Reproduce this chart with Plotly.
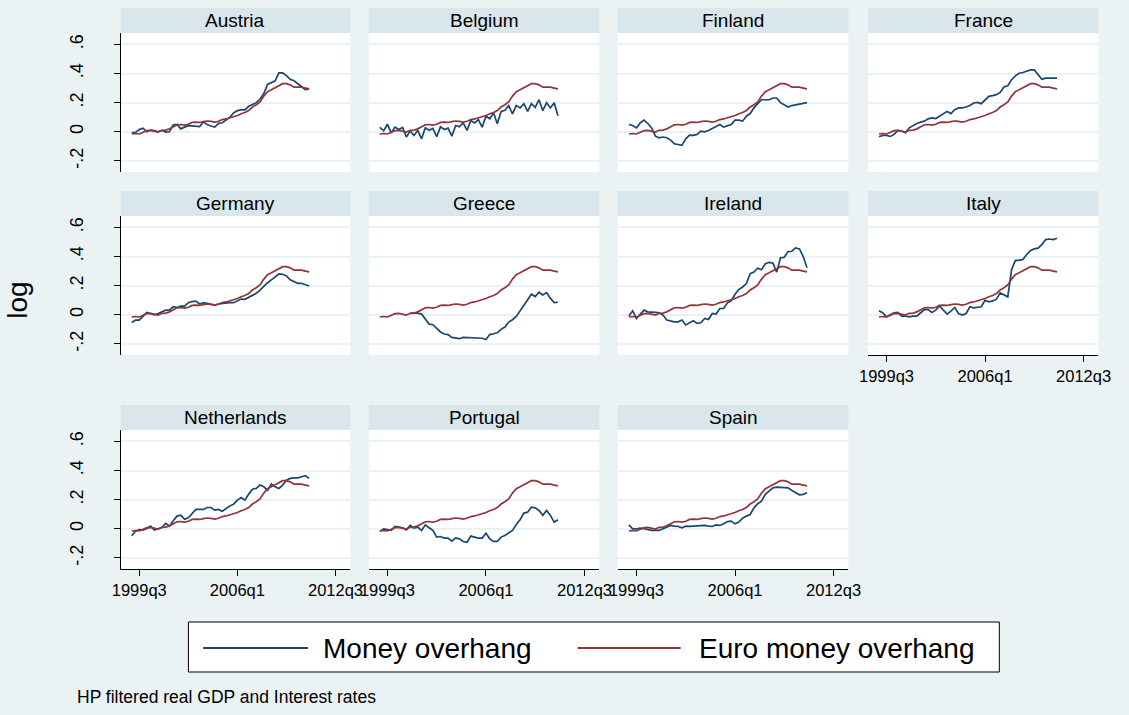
import plotly.graph_objects as go

# Stata %tq quarter numbers: 156 = 1999q1 ... 203 = 2010q4
quarters = list(range(156, 204))
x_tick_vals = [158, 184, 210]
x_tick_text = ["1999q3", "2006q1", "2012q3"]
y_tick_vals = [-0.2, 0, 0.2, 0.4, 0.6]
y_tick_text = ["-.2", "0", ".2", ".4", ".6"]

# Euro-area money overhang (same reference line in every panel)
euro = [-0.015, -0.012, -0.015, -0.005, 0.008, 0.010, 0.003, -0.002, 0.010, 0.012,
        0.020, 0.032, 0.048, 0.050, 0.046, 0.052, 0.064, 0.066, 0.064, 0.070,
        0.074, 0.072, 0.066, 0.072, 0.084, 0.088, 0.096, 0.100, 0.112, 0.124,
        0.132, 0.146, 0.170, 0.186, 0.205, 0.245, 0.275, 0.288, 0.302, 0.318,
        0.330, 0.330, 0.322, 0.306, 0.308, 0.306, 0.300, 0.294]

# National money overhang
austria = [-0.005, -0.005, 0.015, 0.025, 0.0, 0.012, 0.008, 0.0, 0.01, -0.002,
           0.0, 0.048, 0.05, 0.02, 0.032, 0.042, 0.04, 0.04, 0.036, 0.068,
           0.05, 0.04, 0.032, 0.058, 0.062, 0.08, 0.1, 0.13, 0.145, 0.15,
           0.15, 0.175, 0.185, 0.2, 0.225, 0.262, 0.325, 0.335, 0.35, 0.405,
           0.405, 0.385, 0.36, 0.35, 0.328, 0.31, 0.29, 0.293]
belgium = [0.03, 0.007, 0.052, -0.007, 0.032, 0.016, 0.03, -0.036, 0.005, -0.025,
           0.01, -0.048, 0.027, 0.011, 0.023, -0.034, 0.034, 0.016, 0.025, -0.03,
           0.043, 0.034, 0.061, 0.01, 0.077, 0.061, 0.084, 0.032, 0.107, 0.089,
           0.13, 0.055, 0.14, 0.148, 0.18, 0.123, 0.18, 0.164, 0.193, 0.14,
           0.193, 0.168, 0.22, 0.145, 0.2, 0.164, 0.2, 0.11]
finland = [0.05, 0.043, 0.027, 0.061, 0.08, 0.057, 0.027, -0.03, -0.041, -0.036,
           -0.041, -0.057, -0.082, -0.09, -0.093, -0.048, -0.023, -0.025, -0.018, 0.005,
           0.0, 0.009, 0.023, 0.039, 0.05, 0.032, 0.043, 0.05, 0.08, 0.08,
           0.073, 0.107, 0.125, 0.164, 0.193, 0.22, 0.22, 0.22, 0.232, 0.232,
           0.2, 0.186, 0.17, 0.18, 0.184, 0.193, 0.196, 0.2]
france = [-0.034, -0.025, -0.025, -0.032, -0.018, 0.009, 0.005, -0.007, 0.027, 0.043,
          0.057, 0.066, 0.073, 0.089, 0.095, 0.091, 0.107, 0.123, 0.14, 0.125,
          0.152, 0.164, 0.164, 0.17, 0.18, 0.198, 0.202, 0.193, 0.216, 0.243,
          0.248, 0.255, 0.27, 0.307, 0.316, 0.357, 0.384, 0.402, 0.407, 0.414,
          0.425, 0.425, 0.39, 0.361, 0.368, 0.368, 0.364, 0.368]
germany = [-0.053, -0.037, -0.037, -0.009, 0.016, 0.009, 0.0, 0.009, 0.02, 0.032,
           0.032, 0.055, 0.05, 0.06, 0.06, 0.083, 0.09, 0.094, 0.074, 0.083,
           0.078, 0.074, 0.067, 0.074, 0.078, 0.083, 0.083, 0.083, 0.097, 0.108,
           0.106, 0.12, 0.131, 0.147, 0.17, 0.198, 0.22, 0.24, 0.262, 0.28,
           0.278, 0.267, 0.24, 0.228, 0.216, 0.216, 0.205, 0.198]
greece = [None, None, None, None, None, None, None, None, 0.011, 0.011,
          0.011, 0.005, -0.034, -0.064, -0.068, -0.095, -0.118, -0.132, -0.136, -0.155,
          -0.16, -0.164, -0.155, -0.157, -0.155, -0.16, -0.161, -0.161, -0.17, -0.136,
          -0.13, -0.123, -0.1, -0.084, -0.05, -0.034, -0.011, 0.027, 0.057, 0.095,
          0.141, 0.125, 0.155, 0.136, 0.152, 0.114, 0.084, 0.086]
ireland = [-0.009, 0.027, -0.025, 0.005, 0.032, 0.02, 0.016, 0.016, 0.014, -0.002,
           -0.036, -0.043, -0.048, -0.048, -0.036, -0.07, -0.055, -0.041, -0.059, -0.055,
           -0.025, -0.032, 0.009, 0.005, 0.043, 0.043, 0.082, 0.095, 0.141, 0.173,
           0.191, 0.214, 0.282, 0.293, 0.32, 0.309, 0.35, 0.359, 0.355, 0.293,
           0.391, 0.395, 0.434, 0.436, 0.459, 0.452, 0.4, 0.323]
italy = [0.027, 0.014, -0.014, -0.002, 0.014, 0.016, -0.009, -0.009, -0.014, -0.009,
         -0.009, 0.014, 0.036, 0.036, 0.016, 0.032, 0.061, 0.032, 0.005, 0.025,
         0.05, 0.009, -0.002, 0.009, 0.055, 0.048, 0.05, 0.055, 0.1, 0.089,
         0.095, 0.107, 0.15, 0.139, 0.123, 0.309, 0.373, 0.373, 0.38, 0.414,
         0.441, 0.452, 0.457, 0.482, 0.516, 0.52, 0.516, 0.525]
netherlands = [-0.048, -0.016, -0.005, -0.009, 0.002, 0.018, -0.009, 0.002, 0.009, 0.037,
               0.018, 0.055, 0.087, 0.094, 0.066, 0.076, 0.105, 0.133, 0.133, 0.133,
               0.146, 0.146, 0.128, 0.133, 0.121, 0.14, 0.156, 0.169, 0.197, 0.215,
               0.197, 0.238, 0.272, 0.277, 0.3, 0.288, 0.265, 0.307, 0.288, 0.277,
               0.3, 0.334, 0.346, 0.35, 0.35, 0.357, 0.364, 0.346]
portugal = [-0.018, 0.0, -0.005, -0.011, 0.016, 0.011, 0.007, -0.007, 0.023, 0.005,
            0.011, -0.011, 0.027, 0.007, -0.011, -0.057, -0.053, -0.064, -0.064, -0.085,
            -0.062, -0.069, -0.087, -0.092, -0.05, -0.057, -0.064, -0.064, -0.03, -0.069,
            -0.087, -0.087, -0.057, -0.046, -0.03, -0.011, 0.03, 0.062, 0.108, 0.114,
            0.149, 0.144, 0.126, 0.092, 0.126, 0.092, 0.046, 0.062]
spain = [0.027, 0.0, 0.0, 0.005, 0.0, -0.007, -0.011, -0.011, -0.011, 0.0,
         0.011, 0.023, 0.018, 0.016, 0.007, 0.018, 0.016, 0.018, 0.023, 0.023,
         0.023, 0.018, 0.016, 0.027, 0.023, 0.034, 0.05, 0.053, 0.034, 0.046,
         0.073, 0.087, 0.098, 0.144, 0.172, 0.19, 0.236, 0.259, 0.281, 0.286,
         0.286, 0.286, 0.281, 0.263, 0.247, 0.233, 0.236, 0.247]

countries = ["Austria", "Belgium", "Finland", "France", "Germany", "Greece",
             "Ireland", "Italy", "Netherlands", "Portugal", "Spain"]
money = [austria, belgium, finland, france, germany, greece,
         ireland, italy, netherlands, portugal, spain]

# Stata s2color scheme
NAVY = "#1A476F"
MAROON = "#90353B"
BG = "#EAF2F3"
STRIP = "#D9E6EB"
FONT = "Liberation Sans, Arial, sans-serif"

W, H = 1129, 715
col_px = [(114, 348), (367, 602), (621, 856), (876, 1111)]
row_px = [(33, 172), (216, 355), (430, 569)]
STRIP_H = 25
X_RANGE = [153.1, 213.9]
Y_RANGE = [-0.276, 0.678]

fig = go.Figure()
layout = dict(
    width=W, height=H,
    margin=dict(l=0, r=0, t=0, b=0),
    paper_bgcolor=BG, plot_bgcolor="white",
    showlegend=False,
    font=dict(family=FONT, size=16, color="black"),
)
shapes = []
annotations = []

for i, (name, series) in enumerate(zip(countries, money)):
    r, c = divmod(i, 4)
    x0, x1 = col_px[c]
    y0, y1 = row_px[r]
    n = i + 1
    xa = "x" if n == 1 else f"x{n}"
    ya = "y" if n == 1 else f"y{n}"
    xkey = "xaxis" if n == 1 else f"xaxis{n}"
    ykey = "yaxis" if n == 1 else f"yaxis{n}"

    fig.add_trace(go.Scatter(x=quarters, y=series, mode="lines", name="Money overhang",
                             line=dict(color=NAVY, width=1.7), xaxis=xa, yaxis=ya))
    fig.add_trace(go.Scatter(x=quarters, y=euro, mode="lines", name="Euro money overhang",
                             line=dict(color=MAROON, width=1.7), xaxis=xa, yaxis=ya))

    show_x = (r == 2) or (name == "Italy")
    show_y = (c == 0)
    layout[xkey] = dict(
        domain=[x0 / W, x1 / W], anchor=ya, range=X_RANGE,
        showgrid=False, zeroline=False,
        showline=show_x, linecolor="black", linewidth=1,
        ticks="outside" if show_x else "", ticklen=6, tickcolor="black",
        tickvals=x_tick_vals, ticktext=x_tick_text,
        showticklabels=show_x, tickfont=dict(size=16.5),
    )
    layout[ykey] = dict(
        domain=[1 - y1 / H, 1 - y0 / H], anchor=xa, range=Y_RANGE,
        showgrid=True, gridcolor=BG, gridwidth=1.5, zeroline=False,
        showline=show_y, linecolor="black", linewidth=1,
        ticks="outside" if show_y else "", ticklen=6, tickcolor="black",
        tickvals=y_tick_vals, ticktext=y_tick_text, ticklabelstandoff=24,
        showticklabels=show_y, tickangle=-90, tickfont=dict(size=18),
    )
    # panel title strip
    shapes.append(dict(type="rect", xref="paper", yref="paper",
                       x0=x0 / W, x1=x1 / W, y0=1 - y0 / H, y1=1 - (y0 - STRIP_H) / H,
                       fillcolor=STRIP, line=dict(width=0), layer="below"))
    annotations.append(dict(text=name, xref="paper", yref="paper",
                            x=(x0 + x1) / 2 / W, y=1 - (y0 - STRIP_H / 2) / H,
                            xanchor="center", yanchor="middle", showarrow=False,
                            font=dict(size=19, color="black")))

# shared y-axis title
annotations.append(dict(text="log", xref="paper", yref="paper", x=8 / W, y=1 - 300 / H,
                        xanchor="center", yanchor="middle", textangle=-90,
                        showarrow=False, font=dict(size=28, color="black")))

# legend box
shapes.append(dict(type="rect", xref="paper", yref="paper",
                   x0=183 / W, x1=1010 / W, y0=1 - 672 / H, y1=1 - 622 / H,
                   fillcolor="white", line=dict(color="black", width=1)))
legend_items = [("Money overhang", NAVY, 198, 305, 318),
                ("Euro money overhang", MAROON, 580, 685, 702)]
for label, color, lx0, lx1, tx in legend_items:
    shapes.append(dict(type="line", xref="paper", yref="paper",
                       x0=lx0 / W, x1=lx1 / W, y0=1 - 648 / H, y1=1 - 648 / H,
                       line=dict(color=color, width=2)))
    annotations.append(dict(text=label, xref="paper", yref="paper", x=tx / W, y=1 - 648 / H,
                            xanchor="left", yanchor="middle", showarrow=False,
                            font=dict(size=28, color="black")))

# note
annotations.append(dict(text="HP filtered real GDP and Interest rates", xref="paper",
                        yref="paper", x=67 / W, y=1 - 697 / H, xanchor="left",
                        yanchor="middle", showarrow=False, font=dict(size=17.5, color="black")))

layout["shapes"] = shapes
layout["annotations"] = annotations
fig.update_layout(**layout)
fig.write_html("out.html")
